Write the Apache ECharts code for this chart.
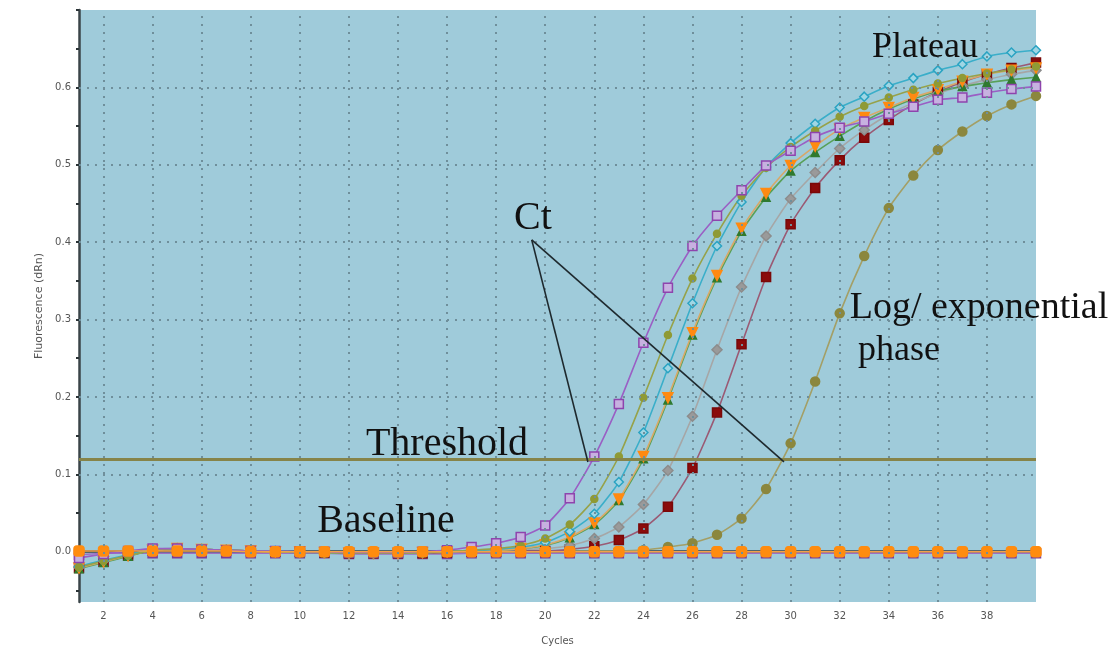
<!DOCTYPE html>
<html>
<head>
<meta charset="utf-8">
<script src="https://cdn.jsdelivr.net/npm/echarts@6/dist/echarts.min.js"></script>
<style>
  html, body { margin: 0; padding: 0; background: #fff; }
  #chart { width: 1117px; height: 660px; }
</style>
</head>
<body>
<div id="chart"></div>
<script>
// cycles 1..40
const cycles = [1,2,3,4,5,6,7,8,9,10,11,12,13,14,15,16,17,18,19,20,21,22,23,24,25,26,27,28,29,30,31,32,33,34,35,36,37,38,39,40];

// fluorescence readings (dRn), one value per cycle
const purpleSq = [-0.008,-0.003,0.001,0.004,0.004,0.003,0.002,0.001,0.001,0.000,0.000,-0.001,-0.001,-0.001,0.000,0.002,0.006,
  0.011,0.019,0.034,0.069,0.123,0.191,0.270,0.341,0.395,0.434,0.467,0.499,0.518,0.536,0.548,0.556,0.566,0.575,0.584,0.587,0.593,0.598,0.601];
const oliveDot = [-0.020,-0.012,-0.005,0.002,0.004,0.003,0.002,0.001,0.000,0.000,-0.001,-0.002,-0.002,-0.002,-0.001,0.000,0.002,
  0.004,0.008,0.017,0.035,0.068,0.123,0.199,0.280,0.353,0.411,0.460,0.496,0.523,0.544,0.562,0.576,0.587,0.597,0.605,0.612,0.618,0.623,0.627];
const tealDia = [-0.019,-0.011,-0.004,0.003,0.004,0.003,0.002,0.001,0.001,0.000,-0.001,-0.002,-0.002,-0.001,-0.001,0.000,0.001,
  0.003,0.006,0.012,0.026,0.049,0.090,0.154,0.237,0.321,0.395,0.452,0.497,0.528,0.553,0.574,0.588,0.602,0.612,0.622,0.630,0.640,0.645,0.648];
const orangeTri = [-0.021,-0.013,-0.005,0.002,0.004,0.003,0.002,0.001,0.000,0.000,-0.001,-0.002,-0.002,-0.002,-0.001,0.000,0.001,0.002,0.004,
  0.009,0.019,0.037,0.068,0.123,0.199,0.283,0.357,0.418,0.463,0.499,0.524,0.546,0.561,0.574,0.587,0.597,0.608,0.617,0.622,0.625];
const greenTri = [-0.022,-0.014,-0.006,0.002,0.003,0.003,0.002,0.001,0.000,-0.001,-0.001,-0.002,-0.002,-0.002,-0.001,0.000,0.001,0.002,0.004,
  0.008,0.018,0.035,0.066,0.120,0.196,0.280,0.354,0.414,0.458,0.492,0.516,0.537,0.556,0.572,0.585,0.595,0.601,0.606,0.610,0.613];
const grayDia = [-0.020,-0.012,-0.005,0.003,0.004,0.003,0.002,0.001,0.000,0.000,-0.001,-0.002,-0.002,-0.002,-0.001,0.000,0.001,0.002,0.003,0.004,
  0.008,0.017,0.032,0.061,0.105,0.175,0.261,0.342,0.408,0.456,0.490,0.521,0.545,0.565,0.580,0.592,0.602,0.610,0.617,0.622];
const redSq = [-0.021,-0.013,-0.005,0.002,0.004,0.003,0.002,0.001,0.000,0.000,-0.001,-0.002,-0.002,-0.002,-0.002,-0.001,0.000,0.000,0.001,0.001,
  0.003,0.007,0.015,0.030,0.058,0.108,0.180,0.268,0.355,0.423,0.470,0.506,0.535,0.558,0.578,0.594,0.607,0.617,0.625,0.632];
const lateDot = [-0.020,-0.012,-0.005,0.002,0.004,0.003,0.002,0.001,0.000,0.000,-0.001,-0.002,-0.002,-0.002,-0.002,-0.001,0.000,0.000,0.000,0.000,0.001,0.001,0.001,
  0.002,0.006,0.011,0.022,0.043,0.081,0.140,0.220,0.308,0.382,0.444,0.486,0.519,0.543,0.563,0.578,0.589];
const ntcPurple = [-0.004,-0.002,-0.002,-0.002,-0.002,-0.002,-0.002,-0.002,-0.002,-0.002,-0.002,-0.003,-0.003,-0.003,-0.003,-0.003,-0.002,-0.002,-0.002,-0.002,
  -0.002,-0.002,-0.002,-0.002,-0.002,-0.002,-0.002,-0.002,-0.002,-0.002,-0.002,-0.002,-0.002,-0.002,-0.002,-0.002,-0.002,-0.002,-0.002,-0.002];
const ntcOrange = [0.001,0.001,0.001,0.001,0.001,0.001,0.001,0.000,0.000,0.000,0.000,0.000,0.000,0.000,0.000,0.000,0.000,0.000,0.000,0.000,
  0.000,0.000,0.000,0.000,0.000,0.000,0.000,0.000,0.000,0.000,0.000,0.000,0.000,0.000,0.000,0.000,0.000,0.000,0.000,0.000];

const threshold = 0.116;
// Ct pointer lines [cycle, dRn]
const ctLineA = [[19.45, 0.403], [21.74, 0.116]];
const ctLineB = [[19.45, 0.403], [29.73, 0.116]];

// ticks / grid
const xLabels = [2,4,6,8,10,12,14,16,18,20,22,24,26,28,30,32,34,36,38];
const xTicks = cycles;
const yLabels = [0,0.1,0.2,0.3,0.4,0.5,0.6];
const yTicks = [-0.05,0,0.05,0.1,0.15,0.2,0.25,0.3,0.35,0.4,0.45,0.5,0.55,0.6,0.65,0.7];
const xGrid = xLabels;
const yGrid = [0.1,0.2,0.3,0.4,0.5,0.6];

const chart = echarts.init(document.getElementById('chart'));

function pairs(vals) {
  return vals.map((v, i) => [cycles[i], v]);
}

function curve(name, vals, lineColor, symbol, size, fill, border, extra) {
  return Object.assign({
    name: name,
    type: 'line',
    data: pairs(vals),
    smooth: 0.2,
    symbol: symbol,
    symbolSize: size,
    showAllSymbol: true,
    lineStyle: { color: lineColor, width: 1.6 },
    itemStyle: { color: fill, borderColor: border, borderWidth: 1.5 },
    z: 3
  }, extra || {});
}

const gridLine = { color: '#6f8f9b', width: 2, type: [2, 6] };

// text annotations
function note(text, x, y, size) {
  return {
    type: 'text', x: x, y: y, z: 100,
    style: {
      text: text, fontSize: size, fontFamily: 'Liberation Serif', fill: '#111',
      align: 'center', verticalAlign: 'middle', textAlign: 'center', textVerticalAlign: 'middle'
    }
  };
}

chart.setOption({
  animation: false,
  backgroundColor: '#ffffff',
  grid: {
    left: 79, right: 81, top: 10, bottom: 58,
    show: true, backgroundColor: '#9fcbda', borderWidth: 0
  },
  xAxis: {
    type: 'value',
    min: 1,
    max: 40,
    name: 'Cycles',
    nameLocation: 'middle',
    nameGap: 34,
    nameTextStyle: { fontSize: 10, color: '#555', fontFamily: 'DejaVu Sans' },
    axisLine: { lineStyle: { color: '#3a4448', width: 2.5 } },
    axisTick: { customValues: xTicks, length: 3, lineStyle: { color: '#2b3336', width: 2 } },
    axisLabel: { customValues: xLabels, fontSize: 10, color: '#555', margin: 9, fontFamily: 'DejaVu Sans' },
    splitLine: { show: false }
  },
  yAxis: {
    type: 'value',
    min: -0.065,
    max: 0.7,
    name: 'Fluorescence (dRn)',
    nameLocation: 'middle',
    nameGap: 20,
    nameTextStyle: { fontSize: 11, color: '#555', fontFamily: 'DejaVu Sans' },
    axisLine: { show: true, lineStyle: { color: '#3a4448', width: 2.5 } },
    axisTick: { show: true, customValues: yTicks, length: 3, lineStyle: { color: '#2b3336', width: 2 } },
    axisLabel: {
      customValues: yLabels, fontSize: 10, color: '#555', margin: 8, fontFamily: 'DejaVu Sans',
      formatter: v => v.toFixed(1)
    },
    splitLine: { show: false }
  },
  series: [
    {
      name: 'grid', type: 'line', data: [], silent: true, z: 1,
      markLine: {
        silent: true, symbol: 'none', animation: false,
        label: { show: false },
        lineStyle: gridLine,
        data: xGrid.map(v => ({ xAxis: v })).concat(yGrid.map(v => ({ yAxis: v })))
      }
    },
    curve('NTC 2', ntcPurple, '#9b6fc4', 'rect', 9, '#8e44ad', '#7d3c98', { smooth: false }),
    curve('Late', lateDot, '#a39f66', 'circle', 9, '#8b873e', '#8b873e'),
    curve('Red', redSq, '#9a5a74', 'rect', 9, '#8b0b0b', '#7a0808'),
    curve('Gray', grayDia, '#a6a6a6', 'diamond', 10, '#9a9a9a', '#8c8c8c'),
    curve('Green', greenTri, '#58a058', 'triangle', 8, '#2f7a2f', '#2f7a2f'),
    curve('Orange', orangeTri, '#d8a868', 'triangle', 10, '#ff8a12', '#ff8a12', { symbolRotate: 180 }),
    curve('Teal', tealDia, '#3aaec9', 'diamond', 9, '#9fd6e4', '#2aa3c2'),
    curve('Olive', oliveDot, '#96a24a', 'circle', 7, '#8f9a35', '#8f9a35'),
    curve('Purple', purpleSq, '#9a5fc4', 'rect', 9, '#c7b1e0', '#8e44ad'),
    curve('NTC 1', ntcOrange, '#f2a24a', 'roundRect', 10, '#ff8c0f', '#ff8c0f', { smooth: false, z: 4 }),
    {
      name: 'threshold', type: 'line', data: [], silent: true, z: 5,
      markLine: {
        silent: true, symbol: 'none', animation: false,
        label: { show: false },
        lineStyle: { color: '#868449', width: 3, type: 'solid' },
        data: [{ yAxis: threshold }]
      }
    },
    {
      name: 'Ct A', type: 'line', data: ctLineA, symbol: 'none', silent: true, z: 6,
      lineStyle: { color: '#1e292e', width: 1.6 }
    },
    {
      name: 'Ct B', type: 'line', data: ctLineB, symbol: 'none', silent: true, z: 6,
      lineStyle: { color: '#1e292e', width: 1.6 }
    }
  ],
  graphic: [
    note('Plateau', 925, 48, 36),
    note('Ct', 533, 218, 40),
    note('Threshold', 447, 444, 40),
    note('Baseline', 386, 521, 40),
    note('Log/ exponential', 979, 308, 38),
    note('phase', 899, 351, 36)
  ]
});
</script>
</body>
</html>
